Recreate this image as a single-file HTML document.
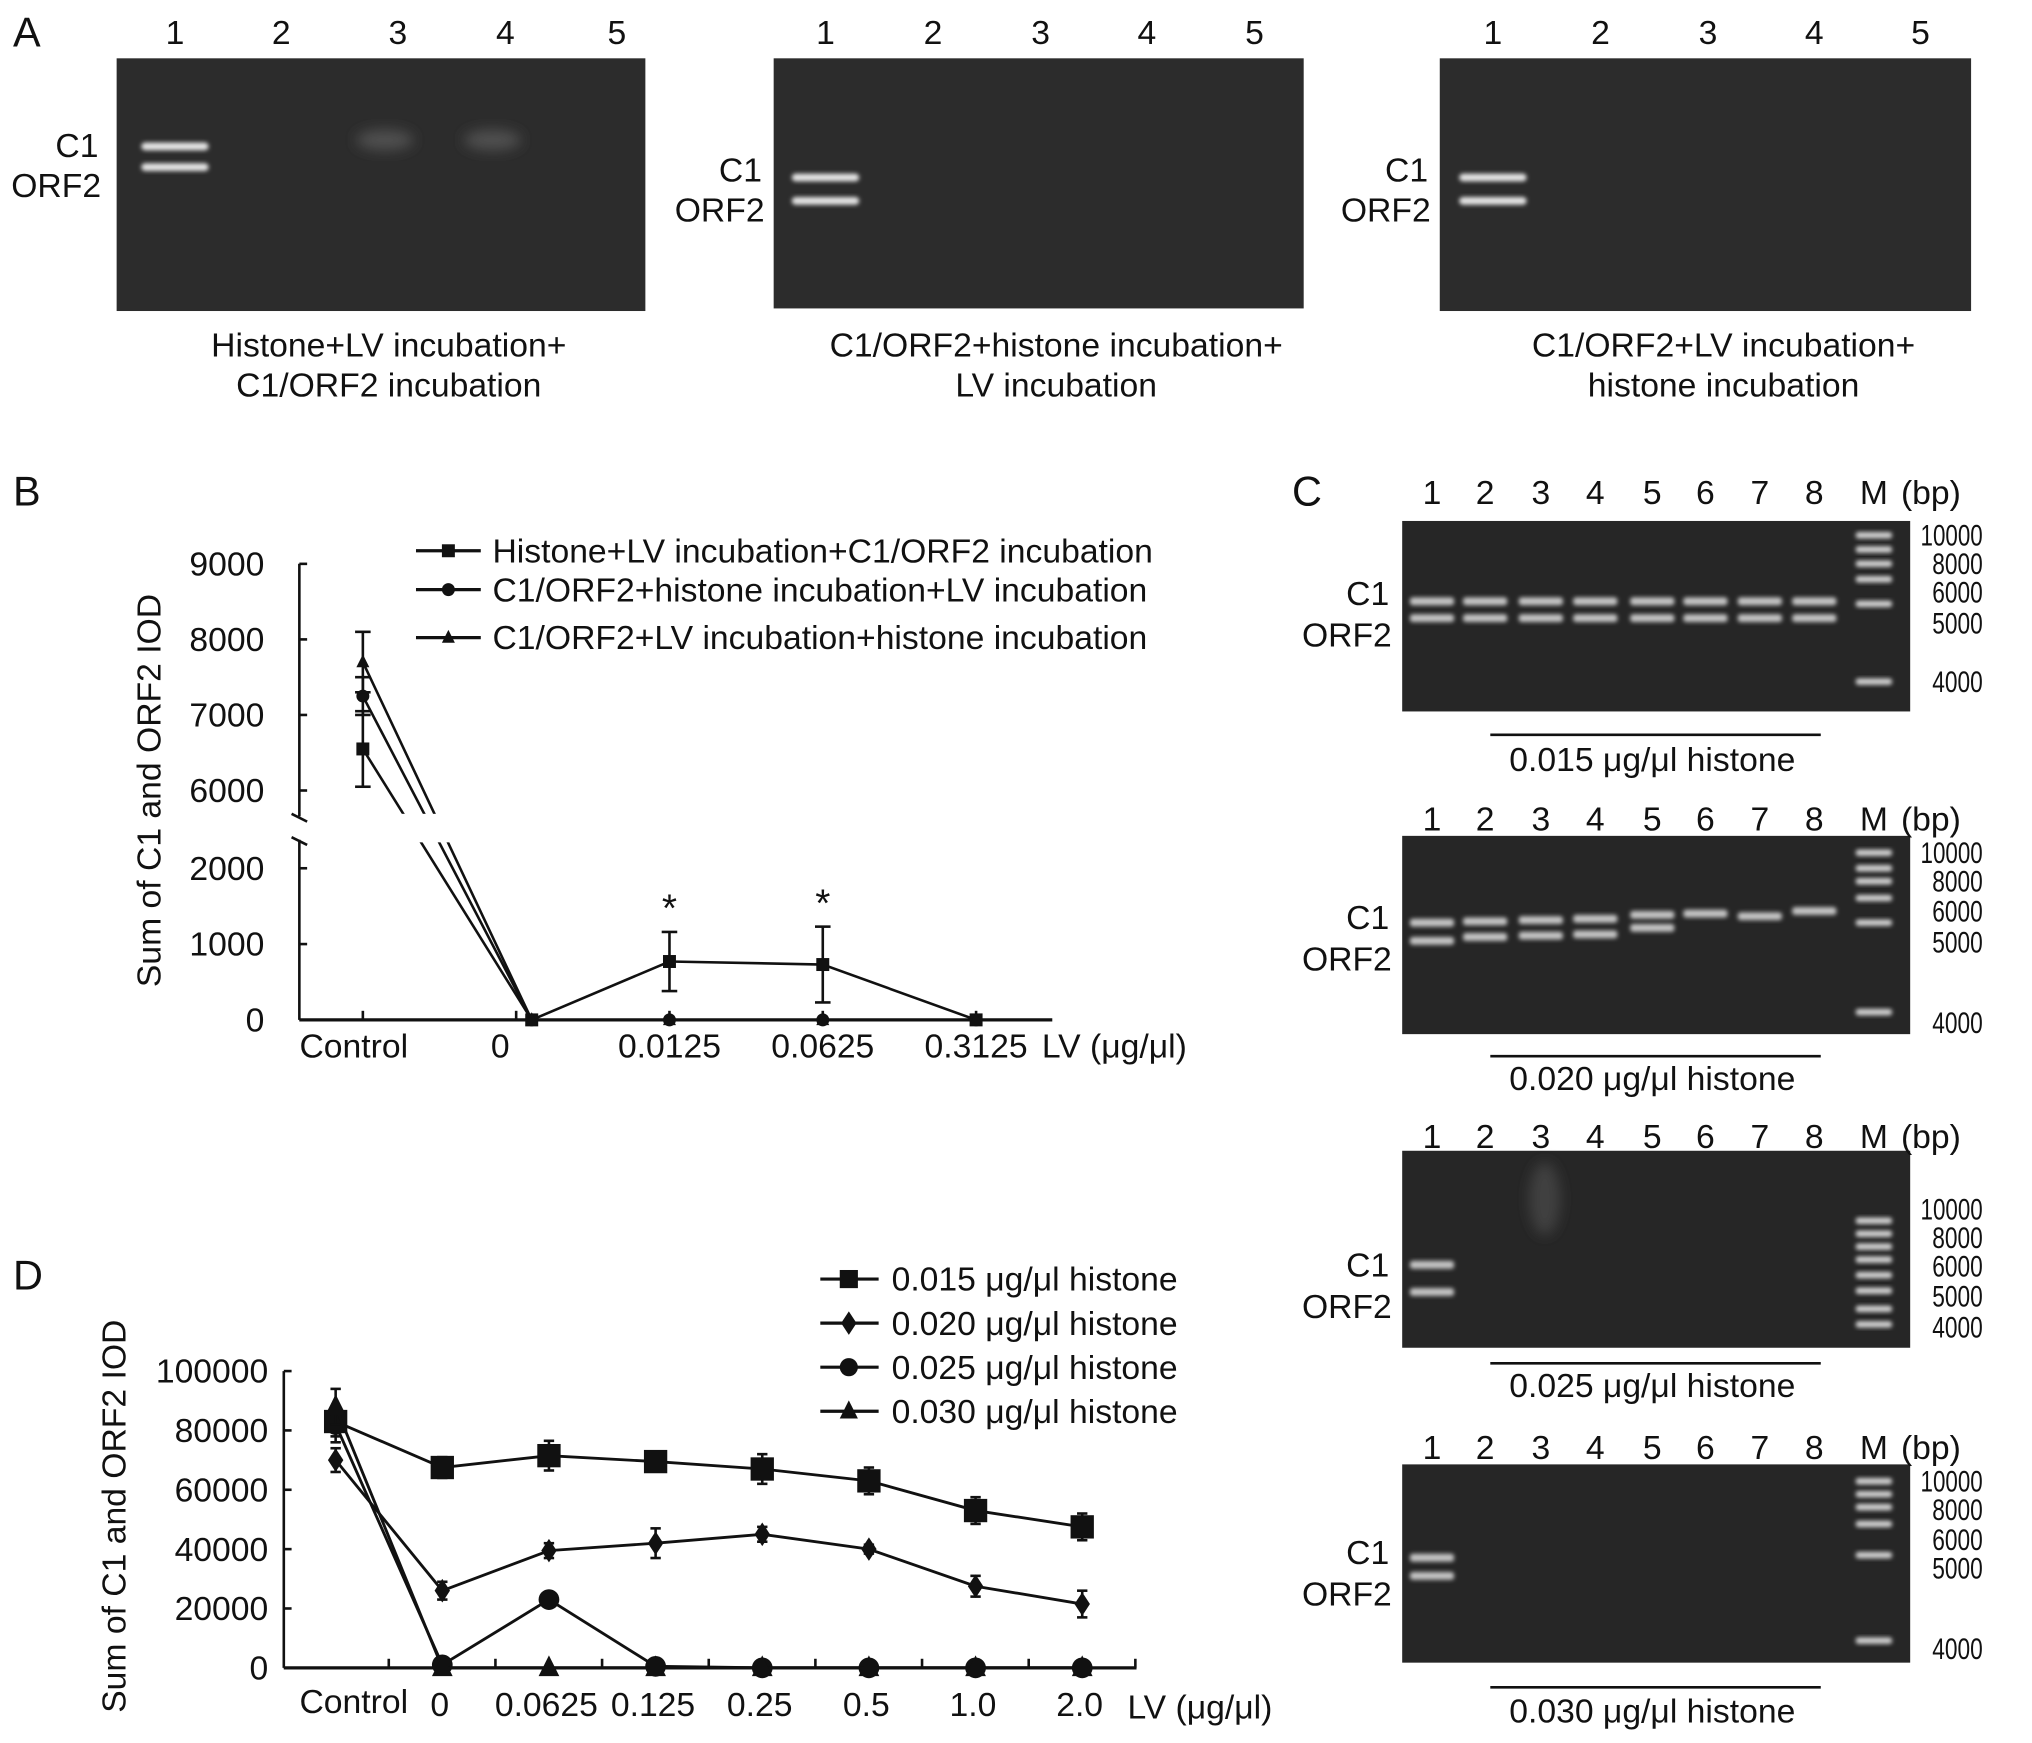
<!DOCTYPE html>
<html><head><meta charset="utf-8">
<style>
html,body{margin:0;padding:0;background:#fff;}
svg{display:block;}
text{font-family:"Liberation Sans",sans-serif;fill:#111;}
</style></head>
<body>
<svg id="fig" width="2032" height="1743" viewBox="0 0 1568 1345" preserveAspectRatio="none" xmlns="http://www.w3.org/2000/svg">
<defs>
<filter id="blur" x="-50%" y="-50%" width="200%" height="200%"><feGaussianBlur stdDeviation="1.6"/></filter>
<filter id="blur2" x="-50%" y="-50%" width="200%" height="200%"><feGaussianBlur stdDeviation="5"/></filter>
</defs>
<g id="root"></g>
</svg>
<script>
// ---------- Panel B data ----------
const bCategories = ["Control","0","0.0125","0.0625","0.3125"];
const bSeries1 = [6550,0,770,730,0];   // Histone+LV incubation+C1/ORF2 incubation
const bErr1 = [500,0,390,500,0];
const bSeries2 = [7250,0,0,0,0];      // C1/ORF2+histone incubation+LV incubation
const bErr2 = [250,0,0,0,0];
const bSeries3 = [7700,0,0,0,0];      // C1/ORF2+LV incubation+histone incubation
const bErr3 = [400,0,0,0,0];
const bTicksLow = [0,1000,2000];
const bTicksHigh = [6000,7000,8000,9000];
// ---------- Panel D data ----------
const dCategories = ["Control","0","0.0625","0.125","0.25","0.5","1.0","2.0"];
const dSeries1 = [83000,67500,71500,69500,67000,63000,53000,47500];
const dErr1 = [5000,3500,5000,2500,5000,4500,4500,4500];
const dSeries2 = [70000,26000,39500,42000,45000,40000,27500,21500];
const dErr2 = [4000,3000,2500,5000,2500,1500,3500,4500];
const dSeries3 = [82000,1000,23000,500,0,0,0,0];
const dErr3 = [6000,0,1500,0,0,0,0,0];
const dSeries4 = [88000,0,0,0,0,0,0,0];
const dErr4 = [6000,0,0,0,0,0,0,0];
const dTicks = [0,20000,40000,60000,80000,100000];

const FS=26;
const NS="http://www.w3.org/2000/svg";
const root=document.getElementById('root');
function mk(tag,attrs,parent){const e=document.createElementNS(NS,tag);for(const k in attrs)e.setAttribute(k,attrs[k]);(parent||root).appendChild(e);return e;}
function txt(x,y,s,size,anchor,parent){const t=mk('text',{x:x,y:y,'font-size':size,'text-anchor':anchor||'middle'},parent);t.textContent=s;return t;}

// ---------- Panel labels ----------
let t;
t=txt(10,36,"A",32,"start");


t=txt(10,390,"B",32,"start");


t=txt(997,390,"C",32,"start");


t=txt(10,995,"D",32,"start");



// ---------- Panel A gels ----------
const aGels=[
 {x:90,y:45,w:408,h:195,lanes:[135,217,307,390,476],c1:[76,112],orf:[78,143],bands:[113,129],extra:true,cap:["Histone+LV incubation+","C1/ORF2 incubation"],cx:300},
 {x:597,y:45,w:409,h:193,lanes:[637,720,803,885,968],c1:[588,131],orf:[590,162],bands:[137,155],extra:false,cap:["C1/ORF2+histone incubation+","LV incubation"],cx:815},
 {x:1111,y:45,w:410,h:195,lanes:[1152,1235,1318,1400,1482],c1:[1102,131],orf:[1104,162],bands:[137,155],extra:false,cap:["C1/ORF2+LV incubation+","histone incubation"],cx:1330}
];
aGels.forEach((g,gi)=>{
  const grp=mk('g',{});
  
  
  mk('rect',{x:g.x,y:g.y,width:g.w,height:g.h,fill:'#2c2c2c'},grp);
  g.lanes.forEach((lx,i)=>{txt(lx,34,String(i+1),FS,'middle',grp);});
  g.bands.forEach(by=>mk('rect',{x:g.lanes[0]-26,y:by-3,width:52,height:6,rx:3,fill:'#e4e4e4',filter:'url(#blur)'},grp));
  if(g.extra){
    [g.lanes[2],g.lanes[3]].forEach(lx=>mk('ellipse',{cx:lx-10,cy:108,rx:22,ry:8,fill:'#505050',filter:'url(#blur2)'},grp));
  }
  txt(g.c1[0],g.c1[1]+9,"C1",FS,'end',grp);
  txt(g.orf[0],g.orf[1]+9,"ORF2",FS,'end',grp);
  txt(g.cx,275,g.cap[0],FS,'middle',grp);
  txt(g.cx,306,g.cap[1],FS,'middle',grp);
});

// ---------- Panel C gels ----------
const cLaneX=[1105,1146,1189,1231,1275,1316,1358,1400];
const cGels=[
 {y:402,h:147,lab:380,bp:[413,435,457,481,526],line:567,cap:586,c1:458,orf:490,cap2:"0.015 μg/μl histone",
  bands:[[464,477],[464,477],[464,477],[464,477],[464,477],[464,477],[464,477],[464,477]],ladder:[413,424,435,447,466,526]},
 {y:645,h:153,lab:632,bp:[658,680,703,727,789],line:815,cap:832,c1:708,orf:740,cap2:"0.020 μg/μl histone",
  bands:[[712,726],[711,723],[710,722],[709,721],[706,716],[705],[707],[703]],ladder:[658,670,680,693,712,781]},
 {y:888,h:152,lab:877,bp:[933,955,977,1000,1024],line:1052,cap:1069,c1:976,orf:1008,cap2:"0.025 μg/μl histone",
  bands:[[976,997]],ladder:[942,952,962,972,984,996,1010,1022]},
 {y:1130,h:153,lab:1117,bp:[1143,1165,1188,1210,1272],line:1302,cap:1320,c1:1198,orf:1230,cap2:"0.030 μg/μl histone",
  bands:[[1202,1216]],ladder:[1143,1153,1163,1176,1200,1266]}
];
const bpLabels=["10000","8000","6000","5000","4000"];
cGels.forEach((g,gi)=>{
  const grp=mk('g',{});
  
  
  mk('rect',{x:1082,y:g.y,width:392,height:g.h,fill:'#262626'},grp);
  cLaneX.forEach((lx,i)=>txt(lx,g.lab+9,String(i+1),FS,'middle',grp));
  txt(1446,g.lab+9,"M",FS,'middle',grp);
  txt(1490,g.lab+9,"(bp)",FS,'middle',grp);
  g.bands.forEach((bs,i)=>bs.forEach(by=>mk('rect',{x:cLaneX[i]-17,y:by-3,width:34,height:6,rx:2,fill:'#c4c4c4',filter:'url(#blur)'},grp)));
  g.ladder.forEach(by=>mk('rect',{x:1432,y:by-2.5,width:28,height:5,rx:2,fill:'#d0d0d0',filter:'url(#blur)'},grp));
  g.bp.forEach((by,i)=>{
    const s=bpLabels[i];
    const tl=txt(1530,by+8,s,23,'end',grp);
    tl.setAttribute('textLength',s.length===5?48:39);
    tl.setAttribute('lengthAdjust','spacingAndGlyphs');
  });
  txt(1072,g.c1+9,"C1",FS,'end',grp);
  txt(1074,g.orf+9,"ORF2",FS,'end',grp);
  mk('line',{x1:1150,x2:1405,y1:g.line,y2:g.line,stroke:'#111','stroke-width':2},grp);
  txt(1275,g.cap+9,g.cap2,FS,'middle',grp);
});
mk('ellipse',{cx:1192,cy:925,rx:12,ry:28,fill:'#404040',filter:'url(#blur2)'});

// ---------- marker helper ----------
function marker(shape,x,y,s,parent){
  let e;
  if(shape==='square') e=mk('rect',{x:x-s,y:y-s,width:2*s,height:2*s,fill:'#111'},parent);
  else if(shape==='circle') e=mk('circle',{cx:x,cy:y,r:s,fill:'#111'},parent);
  else if(shape==='triangle') e=mk('polygon',{points:`${x},${y-s*1.2} ${x-s},${y+s*0.8} ${x+s},${y+s*0.8}`,fill:'#111'},parent);
  else e=mk('polygon',{points:`${x},${y-s*1.3} ${x-s*0.85},${y} ${x},${y+s*1.3} ${x+s*0.85},${y}`,fill:'#111'},parent);
  return e;
}

// ---------- Panel B chart ----------
const bX0=231, bY0=787;
function bx(i){return 280+i*118.3;}
function by(v){return v<=2500 ? bY0 - v*0.0585 : 610 - (v-6000)*0.0583;}
const bg=mk('g',{});


mk('line',{x1:bX0,y1:435,x2:bX0,y2:630,stroke:'#111','stroke-width':2},bg);
mk('line',{x1:bX0,y1:648,x2:bX0,y2:bY0,stroke:'#111','stroke-width':2},bg);
mk('line',{x1:bX0-6,y1:628,x2:bX0+6,y2:634,stroke:'#111','stroke-width':2},bg);
mk('line',{x1:bX0-6,y1:646,x2:bX0+6,y2:652,stroke:'#111','stroke-width':2},bg);
mk('line',{x1:bX0,y1:bY0,x2:812,y2:bY0,stroke:'#111','stroke-width':2.5},bg);
bTicksLow.concat(bTicksHigh).forEach(v=>{
  mk('line',{x1:bX0,x2:bX0+6,y1:by(v),y2:by(v),stroke:'#111','stroke-width':2},bg);
  const tl=txt(bX0-27,by(v)+9,String(v),FS,'end',bg);
  
  
});
bCategories.forEach((c,i)=>{
  mk('line',{x1:bx(i),x2:bx(i),y1:bY0,y2:bY0-7,stroke:'#111','stroke-width':2},bg);
  const tl=txt(i===0?273:(i===1?386:bx(i)),bY0+29,c,FS,'middle',bg);
  
  
});
txt(804,bY0+29,"LV (μg/μl)",FS,'start',bg);
const byl=txt(0,0,"Sum of C1 and ORF2 IOD",FS,'middle',bg);
byl.setAttribute('transform','translate(124,610) rotate(-90)');


const bAll=[[bSeries1,bErr1,'square'],[bSeries2,bErr2,'circle'],[bSeries3,bErr3,'triangle']];
bAll.forEach(([vals,errs,shape],si)=>{
  const sg=mk('g',{},bg);
  
  
  const pts=vals.map((v,i)=>[bx(i)+(i===1?12:0),by(v)]);
  mk('polyline',{points:pts.map(p=>p.join(',')).join(' '),fill:'none',stroke:'#111','stroke-width':2},sg);
  vals.forEach((v,i)=>{
    if(errs[i]>0){
      const x=pts[i][0];
      mk('line',{x1:x,x2:x,y1:by(v-errs[i]),y2:by(v+errs[i]),stroke:'#111','stroke-width':2},sg);
      [v-errs[i],v+errs[i]].forEach(e=>mk('line',{x1:x-6,x2:x+6,y1:by(e),y2:by(e),stroke:'#111','stroke-width':2},sg));
    }
    const m=marker(shape,pts[i][0],pts[i][1],5,sg);
    
    
  });
});
mk('rect',{x:290,y:628,width:90,height:22,fill:'#fff'},bg);
[2,3].forEach(i=>{const s=txt(bx(i),by(bSeries1[i]+bErr1[i])-8,"*",30,'middle',bg);});
const bLeg=[["Histone+LV incubation+C1/ORF2 incubation",'square',425],["C1/ORF2+histone incubation+LV incubation",'circle',455],["C1/ORF2+LV incubation+histone incubation",'triangle',492]];
bLeg.forEach(([lab,shape,y])=>{
  const lg=mk('g',{},bg);
  
  
  mk('line',{x1:321,x2:371,y1:y,y2:y,stroke:'#111','stroke-width':2.5},lg);
  marker(shape,346,y,5,lg);
  txt(380,y+9,lab,FS,'start',lg);
});

// ---------- Panel D chart ----------
const dX0=219, dY0=1287;
function dx(i){return 259+i*82.3;}
function dy(v){return dY0 - v*(229/100000);}
const dg=mk('g',{});


mk('line',{x1:dX0,y1:1058,x2:dX0,y2:dY0,stroke:'#111','stroke-width':2},dg);
mk('line',{x1:dX0,y1:dY0,x2:877,y2:dY0,stroke:'#111','stroke-width':2.5},dg);
dTicks.forEach(v=>{
  mk('line',{x1:dX0,x2:dX0+6,y1:dy(v),y2:dy(v),stroke:'#111','stroke-width':2},dg);
  const tl=txt(dX0-12,dy(v)+9,String(v),FS,'end',dg);
  
  
});
for(let i=0;i<8;i++){const x=dx(i)+41;mk('line',{x1:x,x2:x,y1:dY0,y2:dY0-7,stroke:'#111','stroke-width':2},dg);}
dCategories.forEach((c,i)=>{
  const tl=txt(i===0?273:dx(i)-2,dY0+37,c,FS,'middle',dg);
  if(i===0) tl.setAttribute('y',dY0+35);
  
  
});
txt(870,dY0+39,"LV (μg/μl)",FS,'start',dg);
const dyl=txt(0,0,"Sum of C1 and ORF2 IOD",FS,'middle',dg);
dyl.setAttribute('transform','translate(97,1170) rotate(-90)');


const dAll=[[dSeries1,dErr1,'square',9],[dSeries2,dErr2,'diamond',7],[dSeries3,dErr3,'circle',8],[dSeries4,dErr4,'triangle',8]];
dAll.forEach(([vals,errs,shape,s],si)=>{
  const sg=mk('g',{},dg);
  
  
  const pts=vals.map((v,i)=>[dx(i),dy(v)]);
  mk('polyline',{points:pts.map(p=>p.join(',')).join(' '),fill:'none',stroke:'#111','stroke-width':2.2},sg);
  vals.forEach((v,i)=>{
    if(errs[i]>0){
      const x=pts[i][0];
      mk('line',{x1:x,x2:x,y1:dy(v-errs[i]),y2:dy(v+errs[i]),stroke:'#111','stroke-width':2},sg);
      [v-errs[i],v+errs[i]].forEach(e=>mk('line',{x1:x-4,x2:x+4,y1:dy(e),y2:dy(e),stroke:'#111','stroke-width':2},sg));
    }
    const m=marker(shape,pts[i][0],pts[i][1],s,sg);
    
    
  });
});
const dLeg=[["0.015 μg/μl histone",'square',987],["0.020 μg/μl histone",'diamond',1021],["0.025 μg/μl histone",'circle',1055],["0.030 μg/μl histone",'triangle',1089]];
dLeg.forEach(([lab,shape,y])=>{
  const lg=mk('g',{},dg);
  
  
  mk('line',{x1:633,x2:678,y1:y,y2:y,stroke:'#111','stroke-width':2.5},lg);
  marker(shape,655,y,7,lg);
  txt(688,y+9,lab,FS,'start',lg);
});
</script>
</body></html>
